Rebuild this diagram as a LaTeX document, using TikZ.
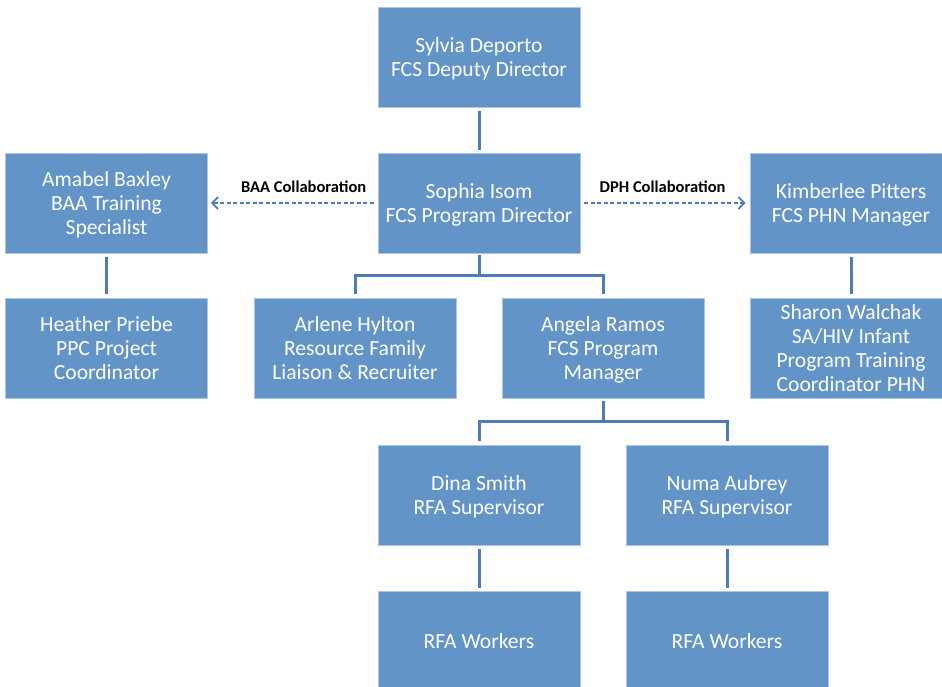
\documentclass[tikz,border=0pt]{standalone}
\usepackage{fontspec}
\setmainfont{Carlito}
\usetikzlibrary{arrows.meta}
\definecolor{boxfill}{RGB}{98,148,200}
\definecolor{boxedge}{RGB}{170,198,228}
\definecolor{linecol}{RGB}{76,125,186}
\tikzset{
  orgbox/.style={rectangle, fill=boxfill, draw=boxedge, line width=0.6pt,
    minimum width=202pt, minimum height=100pt, inner sep=0pt, text depth=0pt,
    text=white, align=center, font=\fontsize{21.6}{24}\selectfont},
  conn/.style={draw=linecol, line width=3pt},
  collab/.style={draw=linecol, line width=1.4pt, dash pattern=on 4pt off 2.5pt,
    -{Straight Barb[length=6pt,width=12pt,line width=1.8pt]}},
  clabel/.style={font=\bfseries\fontsize{16.5}{18}\selectfont, text=black, inner sep=0pt}
}
\begin{document}
\begin{tikzpicture}[x=1pt,y=1pt]
\useasboundingbox (0,0) rectangle (942,686);
\clip (0,0) rectangle (942,686);
\node[orgbox] (sylvia) at (479,629) {Sylvia Deporto\\FCS Deputy Director};
\node[orgbox] (sophia) at (479,483) {Sophia Isom\\FCS Program Director};
\node[orgbox] (amabel) at (106.5,483) {Amabel Baxley\\BAA Training\\Specialist};
\node[orgbox] (kim) at (851,483) {Kimberlee Pitters\\FCS PHN Manager};
\node[orgbox] (heather) at (106.5,337.5) {Heather Priebe\\PPC Project\\Coordinator};
\node[orgbox] (arlene) at (355,337.5) {Arlene Hylton\\Resource Family\\Liaison \& Recruiter};
\node[orgbox] (angela) at (603,337.5) {Angela Ramos\\FCS Program\\Manager};
\node[orgbox] (sharon) at (851,337.5) {Sharon Walchak\\SA/HIV Infant\\Program Training\\Coordinator PHN};
\node[orgbox] (dina) at (479,191) {Dina Smith\\RFA Supervisor};
\node[orgbox] (numa) at (727,191) {Numa Aubrey\\RFA Supervisor};
\node[orgbox] (rfa1) at (479,45) {RFA Workers};
\node[orgbox] (rfa2) at (727,45) {RFA Workers};
% connectors
\draw[conn] ([yshift=-4pt]sylvia.south) -- ([yshift=3pt]sophia.north);
\draw[conn] ([yshift=-4pt]amabel.south) -- ([yshift=4pt]heather.north);
\draw[conn] ([yshift=-4pt]kim.south) -- ([yshift=4pt]sharon.north);
\coordinate (j1) at ([yshift=-22pt]sophia.south);
\draw[conn] ([yshift=-2pt]sophia.south) -- (j1);
\draw[conn] ([yshift=4pt]arlene.north) |- (j1) -| ([yshift=4pt]angela.north);
\coordinate (j2) at ([yshift=-23pt]angela.south);
\draw[conn] ([yshift=-2pt]angela.south) -- (j2);
\draw[conn] ([yshift=4pt]dina.north) |- (j2) -| ([yshift=4pt]numa.north);
\draw[conn] ([yshift=-4pt]dina.south) -- ([yshift=3pt]rfa1.north);
\draw[conn] ([yshift=-4pt]numa.south) -- ([yshift=3pt]rfa2.north);
% collaborations
\draw[collab] ([xshift=-4pt]sophia.west) -- ([xshift=3pt]amabel.east)
  node[clabel, pos=0.43, above=9.5pt] (baa) {BAA Collaboration};
\draw[collab] ([xshift=4pt]sophia.east) -- ([xshift=-4pt]kim.west)
  node[clabel, pos=0.485, above=9.5pt] (dph) {DPH Collaboration};
\end{tikzpicture}
\end{document}
